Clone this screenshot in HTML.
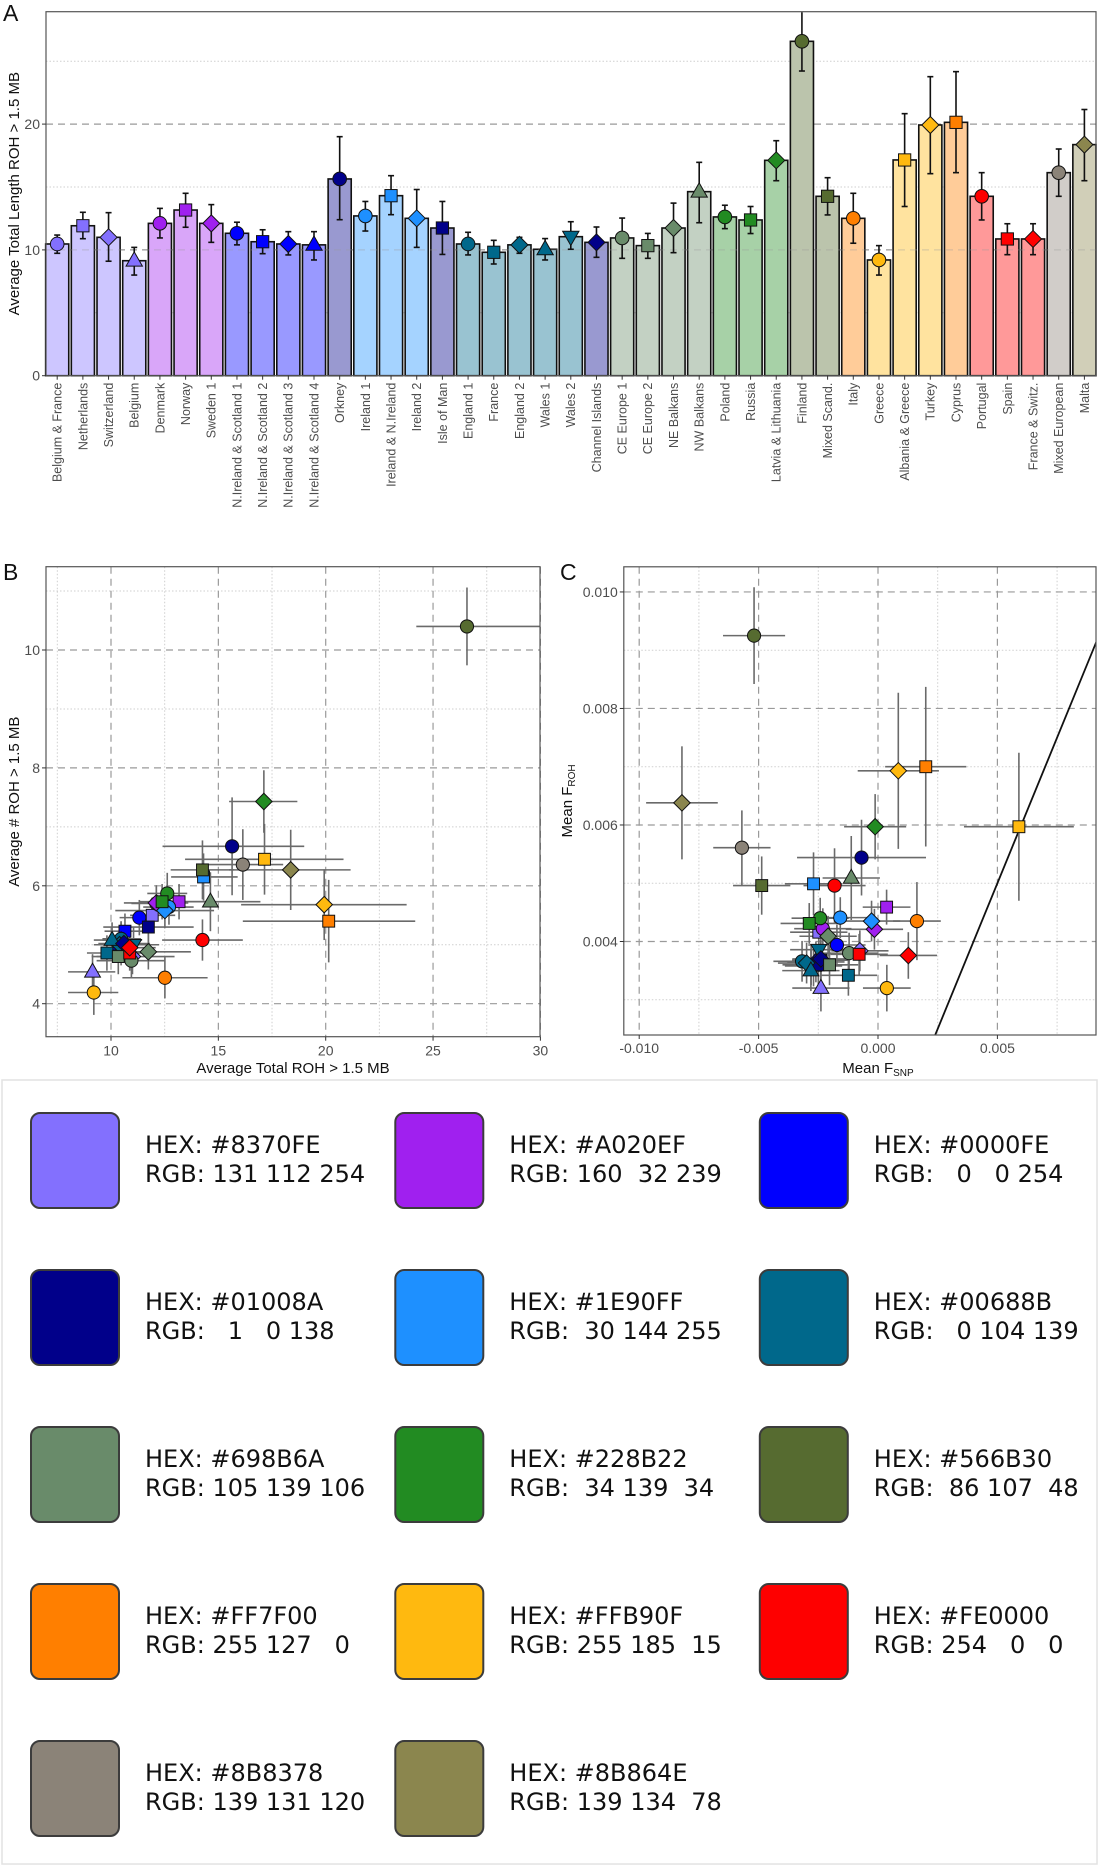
<!DOCTYPE html>
<html><head><meta charset="utf-8">
<style>
html,body{margin:0;padding:0;background:#fff;}
svg{display:block;font-family:"Liberation Sans",sans-serif;}
.sw text{font-family:"DejaVu Sans","Liberation Sans",sans-serif;}
</style></head>
<body>
<svg id="fig" width="1099" height="1866" viewBox="0 0 1099 1866" xmlns="http://www.w3.org/2000/svg">
<g id="pa"></g>
<g id="pb"></g>
<g id="pc"></g>
<g id="sw" class="sw"></g>
</svg>
<script>
// ---------- DATA ----------
const populations = ["Belgium & France","Netherlands","Switzerland","Belgium","Denmark","Norway","Sweden 1","N.Ireland & Scotland 1","N.Ireland & Scotland 2","N.Ireland & Scotland 3","N.Ireland & Scotland 4","Orkney","Ireland 1","Ireland & N.Ireland","Ireland 2","Isle of Man","England 1","France","England 2","Wales 1","Wales 2","Channel Islands","CE Europe 1","CE Europe 2","NE Balkans","NW Balkans","Poland","Russia","Latvia & Lithuania","Finland","Mixed Scand.","Italy","Greece","Albania & Greece","Turkey","Cyprus","Portugal","Spain","France & Switz.","Mixed European","Malta"];
const rohLength = [10.47,11.92,11.0,9.14,12.11,13.17,12.11,11.32,10.65,10.47,10.4,15.64,12.7,14.31,12.51,11.74,10.47,9.81,10.4,10.05,11.05,10.6,10.95,10.34,11.74,14.63,12.62,12.38,17.12,26.58,14.26,12.51,9.2,17.15,19.93,20.14,14.26,10.87,10.87,16.14,18.37];
const rohLengthHi = [11.18,12.99,12.96,10.2,13.3,14.5,13.6,12.2,11.6,11.45,11.45,19.0,13.85,15.9,14.8,13.85,11.4,10.76,11.0,10.9,12.24,11.82,12.53,11.31,13.72,16.96,13.55,13.45,18.68,30.5,15.74,14.5,10.34,20.83,23.77,24.17,16.14,12.08,12.08,18.02,21.16];
const rohLengthLo = [9.73,10.89,9.1,8.0,10.95,11.8,10.6,10.4,9.7,9.6,9.2,12.4,11.5,12.8,10.2,9.64,9.6,8.88,9.73,9.2,10.05,9.41,9.33,9.33,9.78,12.16,11.69,11.3,15.5,24.22,12.78,10.53,8.0,13.45,16.06,16.14,12.38,9.62,9.62,14.26,15.5];
const rohCount = [4.95,5.5,4.8,4.54,5.7,5.73,5.71,5.46,5.23,5.08,5.0,6.67,5.64,6.15,5.58,5.30,5.1,4.86,5.0,5.08,5.0,5.02,4.73,4.8,4.88,5.73,5.87,5.73,7.43,10.4,6.27,4.44,4.19,6.45,5.68,5.40,5.08,4.86,4.95,6.36,6.27];
const rohCountErr = [0.3,0.3,0.3,0.3,0.3,0.3,0.3,0.3,0.3,0.3,0.3,0.83,0.3,0.4,0.3,0.3,0.3,0.3,0.3,0.3,0.3,0.3,0.3,0.3,0.3,0.5,0.35,0.3,0.53,0.66,0.5,0.35,0.38,0.6,0.6,0.7,0.35,0.3,0.3,0.6,0.68];
const fSnp = [-0.0028,-0.00248,-0.00076,-0.00239,-0.00231,0.00036,-0.00015,-0.00172,-0.0024,-0.0026,-0.0027,-0.00069,-0.00158,-0.0027,-0.00027,-0.0025,-0.00318,-0.00124,-0.00299,-0.00281,-0.00248,-0.00239,-0.00121,-0.00203,-0.00209,-0.00112,-0.00242,-0.00288,-0.00012,-0.00519,-0.00487,0.00163,0.00037,0.0059,0.00085,0.002,-0.00182,-0.00079,0.00127,-0.0057,-0.00821];
const fRoh = [0.0036,0.00416,0.00384,0.0032,0.00422,0.00459,0.00421,0.00394,0.00368,0.00365,0.00358,0.00544,0.00441,0.00499,0.00435,0.0036,0.00366,0.00342,0.00363,0.0035,0.00386,0.0037,0.0038,0.0036,0.00409,0.00509,0.0044,0.00431,0.00597,0.00925,0.00496,0.00435,0.0032,0.00597,0.00693,0.0070,0.00496,0.00378,0.00376,0.00561,0.00638];
const fSnpErr = [0.0012,0.0012,0.0012,0.0012,0.0012,0.001,0.0012,0.0012,0.0012,0.0012,0.0012,0.0027,0.0012,0.0012,0.0012,0.0012,0.0012,0.0012,0.0012,0.0012,0.0012,0.0012,0.0012,0.0012,0.0012,0.0012,0.0012,0.0012,0.0013,0.0013,0.0012,0.001,0.001,0.0023,0.0017,0.0017,0.0013,0.0012,0.0012,0.0012,0.0015];
const fRohErr = [0.00035,0.00035,0.00035,0.0004,0.00035,0.0003,0.00035,0.00035,0.00035,0.00035,0.00035,0.00065,0.00035,0.00054,0.00035,0.00035,0.00035,0.00035,0.00035,0.00035,0.00035,0.00035,0.00035,0.00035,0.00035,0.00072,0.00035,0.00035,0.00056,0.00083,0.0005,0.00067,0.0004,0.00127,0.00134,0.00137,0.00064,0.00035,0.0004,0.00064,0.00097];
const groupIdx = [0,0,0,0,1,1,1,2,2,2,2,3,4,4,4,3,5,5,5,5,5,3,6,6,6,6,7,7,7,8,8,9,10,10,10,9,11,11,11,12,13];
const shapeIdx = ["c","s","d","t","c","s","d","c","s","d","t","c","c","s","d","s","c","s","d","t","v","d","c","s","d","t","c","s","d","c","s","c","c","s","d","s","c","s","d","c","d"];
const groupColors = ["#8370FE","#A020EF","#0000FE","#01008A","#1E90FF","#00688B","#698B6A","#228B22","#566B30","#FF7F00","#FFB90F","#FE0000","#8B8378","#8B864E"];
const swatchHex = ["#8370FE","#A020EF","#0000FE","#01008A","#1E90FF","#00688B","#698B6A","#228B22","#566B30","#FF7F00","#FFB90F","#FE0000","#8B8378","#8B864E"];
const aTicks = [0,10,20];
const bXTicks = [10,15,20,25,30];
const bYTicks = [4,6,8,10];
const cXTicks = [-0.010,-0.005,0.000,0.005];
const cYTicks = [0.004,0.006,0.008,0.010];

const NS="http://www.w3.org/2000/svg";
function mk(tag,attrs,parent){const e=document.createElementNS(NS,tag);for(const k in attrs)e.setAttribute(k,attrs[k]);parent.appendChild(e);return e;}
function lighten(hex,a){const r=parseInt(hex.substr(1,2),16),g=parseInt(hex.substr(3,2),16),b=parseInt(hex.substr(5,2),16);
  const f=v=>Math.round(v*a+255*(1-a));return `rgb(${f(r)},${f(g)},${f(b)})`;}
function marker(parent,shape,x,y,col,r,name){
  let e;
  if(shape==="c") e=mk("circle",{cx:x,cy:y,r:r},parent);
  else if(shape==="s") e=mk("rect",{x:x-r*0.9,y:y-r*0.9,width:r*1.8,height:r*1.8},parent);
  else if(shape==="d") e=mk("polygon",{points:`${x},${y-r*1.25} ${x+r*1.25},${y} ${x},${y+r*1.25} ${x-r*1.25},${y}`},parent);
  else if(shape==="t") e=mk("polygon",{points:`${x},${y-r*1.3} ${x+r*1.2},${y+r*0.8} ${x-r*1.2},${y+r*0.8}`},parent);
  else e=mk("polygon",{points:`${x},${y+r*1.3} ${x+r*1.2},${y-r*0.8} ${x-r*1.2},${y-r*0.8}`},parent);
  e.setAttribute("fill",col);e.setAttribute("stroke","#111");e.setAttribute("stroke-width","1");
  
  
  return e;
}
function txt(parent,x,y,s,attrs){const t=mk("text",Object.assign({x:x,y:y},attrs||{}),parent);t.textContent=s;return t;}
const GRIDMAJ={stroke:"#9a9a9a","stroke-width":1.2,"stroke-dasharray":"7,5"};
const GRIDMIN={stroke:"#cfcfcf","stroke-width":1,"stroke-dasharray":"1.5,2"};

// ---------- PANEL A ----------
(function(){
  const g=document.getElementById("pa");
  const L=46,R=1096,T=11.7,B=375.7;
  const yA=v=>B-v*12.58;
  const xA=i=>57.2+i*25.68;
  const bw=23.1;
  mk("rect",{x:L,y:T,width:R-L,height:B-T,fill:"#fff"},g);
  [5,15,25].forEach(v=>mk("line",Object.assign({x1:L,x2:R,y1:yA(v),y2:yA(v)},GRIDMIN),g));
  [10,20].forEach(v=>mk("line",Object.assign({x1:L,x2:R,y1:yA(v),y2:yA(v)},GRIDMAJ),g));
  populations.forEach((p,i)=>{
    const col=groupColors[groupIdx[i]];
    const b=mk("rect",{x:xA(i)-bw/2,y:yA(rohLength[i]),width:bw,height:B-yA(rohLength[i]),fill:lighten(col,0.4),stroke:"#111","stroke-width":1.6},g);
    
    
  });
  [10].forEach(v=>mk("line",Object.assign({x1:L,x2:R,y1:yA(v),y2:yA(v),opacity:0.35},GRIDMAJ),g));
  populations.forEach((p,i)=>{
    const x=xA(i),hi=Math.min(rohLengthHi[i],28.9),lo=rohLengthLo[i];
    const eg=mk("g",{stroke:"#111","stroke-width":1.6},g);
    
    
    mk("line",{x1:x,x2:x,y1:yA(hi),y2:yA(lo)},eg);
    if(rohLengthHi[i]<28.9) mk("line",{x1:x-3,x2:x+3,y1:yA(hi),y2:yA(hi)},eg);
    mk("line",{x1:x-3,x2:x+3,y1:yA(lo),y2:yA(lo)},eg);
    marker(g,shapeIdx[i],x,yA(rohLength[i]),groupColors[groupIdx[i]],6.8,'point-a');
  });
  mk("rect",{x:L,y:T,width:R-L,height:B-T,fill:"none",stroke:"#555","stroke-width":1.2},g);
  aTicks.forEach(v=>{mk("line",{x1:L-4,x2:L,y1:yA(v),y2:yA(v),stroke:"#333"},g);
    txt(g,L-6,yA(v)+5,String(v),{"text-anchor":"end","font-size":14,fill:"#4d4d4d"});});
  populations.forEach((p,i)=>{
    mk("line",{x1:xA(i),x2:xA(i),y1:B,y2:B+4,stroke:"#333"},g);
    const t=txt(g,0,0,p,{"text-anchor":"end","font-size":12.5,fill:"#4d4d4d",transform:`translate(${xA(i)+4.4},${B+7}) rotate(-90)`});
    
    
  });
  const yt=txt(g,0,0,"Average Total Length ROH > 1.5 MB",{"text-anchor":"middle","font-size":15,fill:"#111",transform:`translate(19,${(T+B)/2}) rotate(-90)`});
  
  
  txt(g,3,21,"A",{"font-size":23,fill:"#111"});
})();

// ---------- PANEL B ----------
(function(){
  const g=document.getElementById("pb");
  const L=46,R=540,T=566.7,B=1036.7;
  const xB=v=>111+(v-10)*21.47;
  const yB=v=>650-(v-10)*58.95;
  mk("rect",{x:L,y:T,width:R-L,height:B-T,fill:"#fff"},g);
  [7.5,12.5,17.5,22.5,27.5].forEach(v=>mk("line",Object.assign({x1:xB(v),x2:xB(v),y1:T,y2:B},GRIDMIN),g));
  [5,7,9,11].forEach(v=>mk("line",Object.assign({x1:L,x2:R,y1:yB(v),y2:yB(v)},GRIDMIN),g));
  bXTicks.forEach(v=>mk("line",Object.assign({x1:xB(v),x2:xB(v),y1:T,y2:B},GRIDMAJ),g));
  bYTicks.forEach(v=>mk("line",Object.assign({x1:L,x2:R,y1:yB(v),y2:yB(v)},GRIDMAJ),g));
  populations.forEach((p,i)=>{
    const x=rohLength[i],y=rohCount[i];
    const eg=mk("g",{stroke:"#6a6a6a","stroke-width":1.6},g);
    
    
    mk("line",{x1:xB(Math.max(rohLengthLo[i],7)),x2:xB(Math.min(rohLengthHi[i],30)),y1:yB(y),y2:yB(y)},eg);
    mk("line",{x1:xB(x),x2:xB(x),y1:yB(y+rohCountErr[i]),y2:yB(y-rohCountErr[i])},eg);
  });
  populations.forEach((p,i)=>marker(g,shapeIdx[i],xB(rohLength[i]),yB(rohCount[i]),groupColors[groupIdx[i]],6.6,'point-b'));
  mk("rect",{x:L,y:T,width:R-L,height:B-T,fill:"none",stroke:"#555","stroke-width":1.2},g);
  bYTicks.forEach(v=>{mk("line",{x1:L-4,x2:L,y1:yB(v),y2:yB(v),stroke:"#333"},g);
    txt(g,L-6,yB(v)+5,String(v),{"text-anchor":"end","font-size":14,fill:"#4d4d4d"});});
  bXTicks.forEach(v=>{mk("line",{x1:xB(v),x2:xB(v),y1:B,y2:B+4,stroke:"#333"},g);
    txt(g,xB(v),B+19,String(v),{"text-anchor":"middle","font-size":14,fill:"#4d4d4d"});});
  const xt=txt(g,293,1073,"Average Total ROH > 1.5 MB",{"text-anchor":"middle","font-size":15,fill:"#111"});
  
  
  const yt=txt(g,0,0,"Average # ROH > 1.5 MB",{"text-anchor":"middle","font-size":15,fill:"#111",transform:`translate(19,${(T+B)/2}) rotate(-90)`});
  
  
  txt(g,3,580,"B",{"font-size":23,fill:"#111"});
})();

// ---------- PANEL C ----------
(function(){
  const g=document.getElementById("pc");
  const L=623.8,R=1096,T=566.8,B=1035;
  const xC=v=>878+v*23880;
  const yC=v=>941.5-(v-0.004)*58260;
  mk("rect",{x:L,y:T,width:R-L,height:B-T,fill:"#fff"},g);
  [-0.0075,-0.0025,0.0025,0.0075].forEach(v=>mk("line",Object.assign({x1:xC(v),x2:xC(v),y1:T,y2:B},GRIDMIN),g));
  [0.003,0.005,0.007,0.009].forEach(v=>mk("line",Object.assign({x1:L,x2:R,y1:yC(v),y2:yC(v)},GRIDMIN),g));
  cXTicks.forEach(v=>mk("line",Object.assign({x1:xC(v),x2:xC(v),y1:T,y2:B},GRIDMAJ),g));
  cYTicks.forEach(v=>mk("line",Object.assign({x1:L,x2:R,y1:yC(v),y2:yC(v)},GRIDMAJ),g));
  const cp=mk("clipPath",{id:"cclip"},g);mk("rect",{x:L,y:T,width:R-L,height:B-T},cp);
  const inner=mk("g",{"clip-path":"url(#cclip)"},g);
  const idl=mk("line",{x1:xC(0.0024),y1:yC(0.0024),x2:xC(0.0095),y2:yC(0.0095),stroke:"#111","stroke-width":1.8},inner);
  
  
  populations.forEach((p,i)=>{
    const x=fSnp[i],y=fRoh[i];
    const eg=mk("g",{stroke:"#6a6a6a","stroke-width":1.6},inner);
    
    
    mk("line",{x1:xC(x-fSnpErr[i]),x2:xC(x+fSnpErr[i]),y1:yC(y),y2:yC(y)},eg);
    mk("line",{x1:xC(x),x2:xC(x),y1:yC(y+fRohErr[i]),y2:yC(y-fRohErr[i])},eg);
  });
  populations.forEach((p,i)=>marker(inner,shapeIdx[i],xC(fSnp[i]),yC(fRoh[i]),groupColors[groupIdx[i]],6.6,'point-c'));
  mk("rect",{x:L,y:T,width:R-L,height:B-T,fill:"none",stroke:"#555","stroke-width":1.2},g);
  cYTicks.forEach(v=>{mk("line",{x1:L-4,x2:L,y1:yC(v),y2:yC(v),stroke:"#333"},g);
    txt(g,L-6,yC(v)+5,v.toFixed(3),{"text-anchor":"end","font-size":14,fill:"#4d4d4d"});});
  cXTicks.forEach(v=>{mk("line",{x1:xC(v),x2:xC(v),y1:B,y2:B+4,stroke:"#333"},g);
    txt(g,xC(v),B+18,v.toFixed(3),{"text-anchor":"middle","font-size":14,fill:"#4d4d4d"});});
  const xt=mk("text",{x:878,y:1073,"text-anchor":"middle","font-size":15,fill:"#111"},g);
  xt.innerHTML='Mean F<tspan font-size="10" dy="3">SNP</tspan>';
  
  
  const yt=mk("text",{"text-anchor":"middle","font-size":15,fill:"#111",transform:`translate(572,${(T+B)/2}) rotate(-90)`},g);
  yt.innerHTML='Mean F<tspan font-size="10" dy="3">ROH</tspan>';
  
  
  txt(g,560,580,"C",{"font-size":23,fill:"#111"});
})();

// ---------- SWATCHES ----------
(function(){
  const g=document.getElementById("sw");
  mk("rect",{x:2,y:1080,width:1095,height:784,fill:"#fff",stroke:"#e2e2e2","stroke-width":1.5},g);
  const colX=[31,395.3,759.8], rowY=[1113,1270,1427,1584,1741];
  const pad=n=>String(n).padStart(3," ");
  swatchHex.forEach((h,i)=>{
    const x=colX[i%3],y=rowY[Math.floor(i/3)];
    const r=parseInt(h.substr(1,2),16),gg=parseInt(h.substr(3,2),16),b=parseInt(h.substr(5,2),16);
    const s=mk("rect",{x:x,y:y,width:88,height:95,rx:9,fill:h,stroke:"#3c3c3c","stroke-width":2},g);
    
    
    txt(g,x+114,y+40,"HEX: "+h,{"font-size":24,fill:"#111"});
    const t=txt(g,x+114,y+69,"RGB: "+pad(r)+" "+pad(gg)+" "+pad(b),{"font-size":24,fill:"#111"});
    t.setAttribute("xml:space","preserve");t.style.whiteSpace="pre";
  });
})();
</script>
</body></html>
